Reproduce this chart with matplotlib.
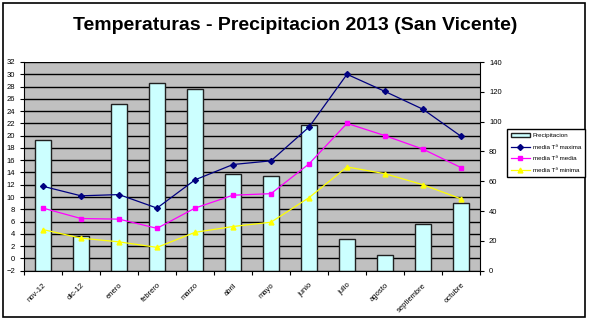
import matplotlib
matplotlib.use('Agg')
import matplotlib.pyplot as plt
import numpy as np
from matplotlib.patches import Rectangle

meses = ['nov-12', 'dic-12', 'enero', 'febrero', 'marzo', 'abril', 'mayo',
         'junio', 'julio', 'agosto', 'septiembre', 'octubre']
precipitacion = [88, 23.4, 112, 126, 122, 65, 63.7, 98, 21, 10.6, 31.4, 45.3]
t_maxima = [11.75, 10.2, 10.4, 8.2, 12.8, 15.3, 15.9, 21.4, 30.0, 27.2, 24.3, 19.9]
t_media = [8.2, 6.5, 6.4, 4.9, 8.2, 10.3, 10.55, 15.4, 22.0, 20.0, 17.8, 14.8]
t_minima = [4.7, 3.3, 2.7, 1.8, 4.25, 5.2, 5.9, 9.9, 14.9, 13.8, 12.0, 9.7]

plt.rcParams['font.family'] = ['Liberation Sans', 'DejaVu Sans']

fig = plt.figure(figsize=(5.9, 3.22), dpi=100)
fig.patches.append(Rectangle((3 / 590, 5 / 322), 582 / 590, 314 / 322, transform=fig.transFigure,
                             fill=False, edgecolor='black', lw=1.2))
fig.text(0.5, 0.922, 'Temperaturas - Precipitacion 2013 (San Vicente)', ha='center', va='center',
         fontsize=14, fontweight='bold')

ax = fig.add_axes([24 / 590, 51.3 / 322, 456 / 590, 208.7 / 322])
ax2 = ax.twinx()
ax.set_zorder(ax2.get_zorder() + 1)
ax.patch.set_visible(False)
ax2.set_facecolor('#c0c0c0')
ax2.patch.set_visible(True)

x = np.arange(len(meses))

# precipitation bars on the right axis
ax2.bar(x, precipitacion, width=0.42, color='#ccffff', edgecolor='#202020', lw=1,
        label='Precipitacion', zorder=3)
ax2.set_ylim(0, 140)
ax2.set_yticks(np.arange(0, 141, 20))
ax2.set_xlim(-0.5, len(meses) - 0.5)

# horizontal grid drawn from the temperature axis
for v in np.arange(-2, 33, 2):
    ax2.axhline((v + 2) * 140 / 34, color='black', lw=1, zorder=1)

ax.plot(x, t_maxima, color='#000080', marker='D', ms=3, lw=0.9, label='media Tª maxima')
ax.plot(x, t_media, color='#ff00ff', marker='s', ms=3, lw=0.9, label='media Tª media')
ax.plot(x, t_minima, color='#ffff00', marker='^', ms=3.5, lw=0.9, label='media Tª minima')
ax.set_ylim(-2, 32)
ax.set_yticks(np.arange(-2, 33, 2))
ax.set_xlim(-0.5, len(meses) - 0.5)
ax.set_xticks(x)
ax.set_xticklabels(meses, rotation=45, ha='right', rotation_mode='anchor', fontsize=5.5)
ax.set_xticks(np.arange(-0.5, len(meses), 1), minor=True)
ax.tick_params(axis='x', which='major', length=0, pad=8)
ax.tick_params(axis='x', which='minor', length=3, direction='out', width=0.8)
ax.tick_params(axis='y', labelsize=5.5, length=3, width=0.8)
ax2.tick_params(axis='y', labelsize=5.5, length=3, width=0.8)

for a in (ax, ax2):
    for s in a.spines.values():
        s.set_visible(False)
ax.spines['left'].set_visible(True)
ax.spines['bottom'].set_visible(True)
ax2.spines['right'].set_visible(True)

h1, l1 = ax2.get_legend_handles_labels()
h2, l2 = ax.get_legend_handles_labels()
leg = fig.legend(h1 + h2, l1 + l2, loc='upper left', bbox_to_anchor=(507 / 590, 1 - 129 / 322),
                 fontsize=4.5, frameon=True, fancybox=False, edgecolor='black', framealpha=1,
                 handlelength=3, handletextpad=0.5, borderpad=0.6, labelspacing=1.0,
                 borderaxespad=0)
leg.get_frame().set_linewidth(1)

fig.savefig('out.png', dpi=100)
